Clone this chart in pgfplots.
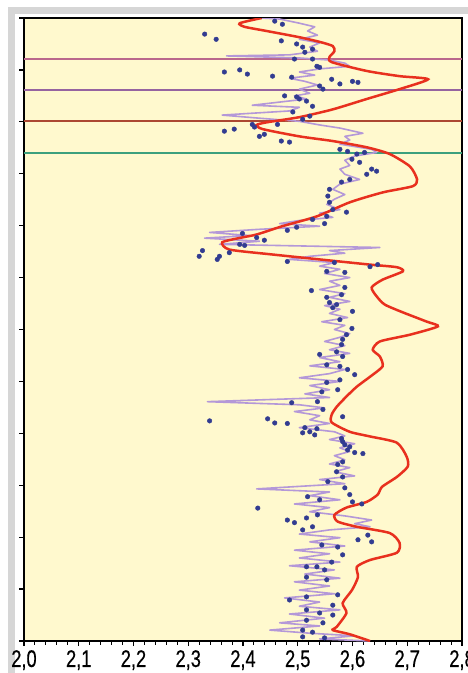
\documentclass[border=0pt]{standalone}
\usepackage{fontspec}
\setmainfont{Liberation Sans}[FakeStretch=0.76,FakeBold=0.4]
\usepackage{pgfplots}
\pgfplotsset{compat=1.18}
\definecolor{bg}{RGB}{255,249,206}
\definecolor{framegray}{RGB}{214,214,214}
\definecolor{redcurve}{RGB}{232,48,30}
\definecolor{lav}{RGB}{180,152,216}
\definecolor{dotblue}{RGB}{50,60,145}
\definecolor{hlA}{RGB}{186,104,140}
\definecolor{hlB}{RGB}{150,100,160}
\definecolor{hlC}{RGB}{172,72,50}
\definecolor{hlD}{RGB}{60,160,125}
\begin{document}
\begin{tikzpicture}
\useasboundingbox (0,0) rectangle (468pt,673pt);
\fill[white] (0,0) rectangle (468pt,673pt);
\fill[framegray] (8pt,0) rectangle (15pt,666pt);
\fill[framegray] (8pt,659pt) rectangle (468pt,666pt);
\begin{axis}[
  at={(24pt,32pt)}, anchor=south west,
  scale only axis, width=438pt, height=623pt,
  xmin=2, xmax=2.8, ymin=0, ymax=12, y dir=reverse,
  axis background/.style={fill=bg},
  xtick={2,2.1,2.2,2.3,2.4,2.5,2.6,2.7,2.8},
  xticklabels={{2,0},{2,1},{2,2},{2,3},{2,4},{2,5},{2,6},{2,7},{2,8}},
  minor x tick num=4,
  ytick={0,1,2,3,4,5,6,7,8,9,10,11,12},
  yticklabels={},
  tick align=outside,
  major tick length=5pt, minor tick length=3.5pt,
  xtick pos=lower, ytick pos=left,
  tick style={black, line width=1.3pt},
  minor tick style={black, line width=1pt},
  axis line style={black, line width=2.2pt},
  xticklabel style={font=\fontsize{24}{24}\selectfont, inner sep=0pt, yshift=-4pt},
  clip=true,
]
\addplot[hlA, line width=2pt] coordinates {(2,0.79) (2.8,0.79)};
\addplot[hlB, line width=2pt] coordinates {(2,1.38) (2.8,1.38)};
\addplot[hlC, line width=2pt] coordinates {(2,1.99) (2.8,1.99)};
\addplot[hlD, line width=2pt] coordinates {(2,2.60) (2.8,2.60)};

% lavender log curve
\addplot[lav, line width=1.6pt, line join=round] coordinates {
(2.434,0.00) (2.467,0.02) (2.503,0.10) (2.531,0.17) (2.518,0.25) (2.536,0.33)
(2.503,0.41) (2.540,0.48) (2.522,0.56) (2.536,0.64) (2.485,0.71) (2.370,0.73)
(2.503,0.77) (2.558,0.81) (2.586,0.87) (2.595,0.93) (2.540,0.98) (2.503,1.04)
(2.531,1.10) (2.485,1.16) (2.513,1.22) (2.536,1.29) (2.503,1.37) (2.522,1.45)
(2.494,1.50) (2.516,1.56) (2.417,1.68) (2.503,1.72) (2.485,1.79) (2.362,1.87)
(2.430,1.93) (2.503,1.99) (2.540,2.06) (2.577,2.12) (2.619,2.22) (2.586,2.28)
(2.595,2.35) (2.577,2.43) (2.635,2.53) (2.644,2.59) (2.604,2.66) (2.586,2.74)
(2.595,2.84) (2.577,2.91) (2.586,3.01) (2.613,3.11) (2.577,3.20) (2.564,3.30)
(2.586,3.40) (2.567,3.49) (2.553,3.59) (2.577,3.69) (2.540,3.76) (2.564,3.84)
(2.503,3.90) (2.467,3.96) (2.540,4.01) (2.430,4.07) (2.339,4.13) (2.412,4.19)
(2.330,4.24) (2.430,4.30) (2.357,4.36) (2.650,4.42) (2.558,4.48) (2.586,4.53)
(2.522,4.59) (2.485,4.65) (2.567,4.71) (2.540,4.78) (2.577,4.84) (2.549,4.92)
(2.595,5.00) (2.558,5.07) (2.577,5.15) (2.540,5.23) (2.586,5.31) (2.558,5.38)
(2.595,5.46) (2.549,5.54) (2.577,5.61) (2.558,5.69) (2.591,5.77) (2.544,5.85)
(2.586,5.92) (2.567,6.00) (2.595,6.08) (2.577,6.15) (2.549,6.23) (2.586,6.31)
(2.558,6.39) (2.595,6.46) (2.540,6.54) (2.577,6.62) (2.522,6.70) (2.586,6.77)
(2.558,6.85) (2.503,6.93) (2.577,7.00) (2.522,7.08) (2.558,7.16) (2.513,7.24)
(2.558,7.31) (2.335,7.39) (2.503,7.45) (2.549,7.51) (2.494,7.58) (2.540,7.66)
(2.522,7.74) (2.558,7.81) (2.503,7.89) (2.567,7.97) (2.586,8.05) (2.558,8.12)
(2.604,8.20) (2.577,8.28) (2.595,8.35) (2.567,8.43) (2.586,8.51) (2.558,8.59)
(2.595,8.66) (2.567,8.74) (2.604,8.82) (2.540,8.89) (2.586,8.97) (2.425,9.07)
(2.558,9.13) (2.522,9.20) (2.577,9.28) (2.494,9.36) (2.558,9.43) (2.522,9.51)
(2.586,9.59) (2.635,9.67) (2.604,9.74) (2.632,9.80) (2.558,9.86) (2.503,9.94)
(2.577,10.01) (2.522,10.09) (2.586,10.17) (2.494,10.25) (2.558,10.32) (2.503,10.40)
(2.577,10.48) (2.485,10.55) (2.567,10.63) (2.513,10.71) (2.577,10.79) (2.494,10.86)
(2.558,10.94) (2.503,11.02) (2.567,11.09) (2.476,11.17) (2.540,11.25) (2.503,11.33)
(2.577,11.40) (2.485,11.48) (2.549,11.56) (2.467,11.65) (2.540,11.71) (2.449,11.79)
(2.522,11.85) (2.604,11.90) (2.540,11.96) (2.632,12.00)
};

% red smoothed curve
\addplot[redcurve, line width=2.5pt, smooth, tension=0.4] coordinates {
(2.434,0.00) (2.394,0.10) (2.403,0.17) (2.443,0.25) (2.503,0.37) (2.540,0.46)
(2.564,0.54) (2.567,0.64) (2.558,0.75) (2.562,0.85) (2.626,1.02) (2.686,1.12)
(2.738,1.18) (2.686,1.37) (2.626,1.56) (2.564,1.76) (2.503,1.91) (2.443,2.01)
(2.425,2.06) (2.436,2.14) (2.503,2.28) (2.564,2.37) (2.626,2.49) (2.668,2.62)
(2.705,2.86) (2.718,3.11) (2.710,3.24) (2.655,3.36) (2.595,3.55) (2.535,3.82)
(2.472,4.01) (2.425,4.17) (2.397,4.23) (2.362,4.32) (2.375,4.46) (2.449,4.55)
(2.540,4.65) (2.632,4.75) (2.681,4.80) (2.692,4.88) (2.655,5.04) (2.635,5.19)
(2.644,5.36) (2.659,5.52) (2.692,5.67) (2.736,5.85) (2.756,5.94) (2.705,6.10)
(2.650,6.23) (2.637,6.39) (2.650,6.52) (2.655,6.71) (2.632,6.91) (2.608,7.10)
(2.589,7.29) (2.571,7.49) (2.562,7.64) (2.562,7.79) (2.595,7.97) (2.632,8.06)
(2.681,8.18) (2.699,8.45) (2.701,8.64) (2.681,8.84) (2.654,9.03) (2.646,9.18)
(2.626,9.32) (2.589,9.43) (2.567,9.57) (2.573,9.70) (2.608,9.80) (2.668,9.92)
(2.686,10.11) (2.681,10.30) (2.632,10.44) (2.608,10.57) (2.610,10.77) (2.599,11.02)
(2.582,11.27) (2.589,11.46) (2.571,11.73) (2.564,11.79) (2.595,11.87) (2.632,12.00)
};

% measured points
\addplot[only marks, mark=*, mark size=2.3pt, dotblue, mark options={draw=dotblue, fill=dotblue}] coordinates {
(2.458,0.06) (2.472,0.12) (2.330,0.31) (2.351,0.41) (2.470,0.44) (2.498,0.50)
(2.509,0.56) (2.513,0.66) (2.527,0.60) (2.494,0.79) (2.527,0.79) (2.535,0.93)
(2.540,0.95) (2.366,1.04) (2.394,1.00) (2.408,1.08) (2.454,1.12) (2.489,1.14)
(2.562,1.18) (2.577,1.27) (2.600,1.22) (2.610,1.24) (2.540,1.31) (2.546,1.37)
(2.476,1.50) (2.498,1.52) (2.503,1.56) (2.516,1.60) (2.527,1.70) (2.491,1.81)
(2.509,1.95) (2.522,1.89) (2.417,2.05) (2.421,2.10) (2.463,2.05) (2.366,2.18)
(2.384,2.14) (2.430,2.28) (2.439,2.24) (2.470,2.37) (2.485,2.39) (2.577,2.53)
(2.591,2.57) (2.608,2.62) (2.622,2.59) (2.599,2.72) (2.613,2.78) (2.635,2.91)
(2.644,2.95) (2.626,3.01) (2.595,3.11) (2.580,3.16) (2.558,3.30) (2.555,3.43)
(2.558,3.55) (2.564,3.69) (2.589,3.74) (2.553,3.82) (2.527,3.88) (2.549,3.96)
(2.498,4.03) (2.481,4.09) (2.399,4.15) (2.425,4.23) (2.439,4.28) (2.394,4.36)
(2.403,4.38) (2.326,4.48) (2.320,4.59) (2.357,4.59) (2.353,4.65) (2.375,4.52)
(2.481,4.69) (2.567,4.71) (2.632,4.79) (2.646,4.75) (2.553,4.88) (2.586,4.90)
(2.525,5.25) (2.586,5.19) (2.580,5.33) (2.553,5.38) (2.558,5.48) (2.571,5.52)
(2.564,5.58) (2.600,5.65) (2.577,5.81) (2.599,5.98) (2.589,6.10) (2.582,6.19)
(2.580,6.29) (2.571,6.43) (2.540,6.48) (2.582,6.52) (2.553,6.68) (2.577,6.71)
(2.591,6.77) (2.604,6.87) (2.577,6.97) (2.553,7.02) (2.544,7.20) (2.573,7.16)
(2.536,7.39) (2.489,7.41) (2.546,7.54) (2.582,7.68) (2.339,7.76) (2.445,7.72)
(2.458,7.80) (2.481,7.81) (2.513,7.89) (2.522,7.97) (2.535,7.91) (2.580,8.10)
(2.509,7.99) (2.531,8.03) (2.582,8.16) (2.586,8.22) (2.595,8.26) (2.591,8.32)
(2.604,8.37) (2.619,8.39) (2.582,8.55) (2.573,8.60) (2.571,8.74) (2.582,8.84)
(2.555,8.93) (2.586,9.05) (2.595,9.18) (2.600,9.32) (2.617,9.36) (2.427,9.44)
(2.518,9.22) (2.540,9.28) (2.516,9.63) (2.536,9.57) (2.481,9.67) (2.494,9.72)
(2.527,9.80) (2.509,9.86) (2.628,9.96) (2.635,10.09) (2.610,10.05) (2.544,10.15)
(2.573,10.19) (2.582,10.34) (2.562,10.48) (2.516,10.57) (2.535,10.57) (2.549,10.63)
(2.516,10.77) (2.553,10.82) (2.573,11.11) (2.516,11.15) (2.485,11.21) (2.564,11.31)
(2.516,11.40) (2.540,11.46) (2.564,11.50) (2.516,11.60) (2.546,11.65) (2.509,11.79)
(2.527,11.83) (2.549,11.94) (2.509,11.92)
};
\end{axis}
\end{tikzpicture}
\end{document}
